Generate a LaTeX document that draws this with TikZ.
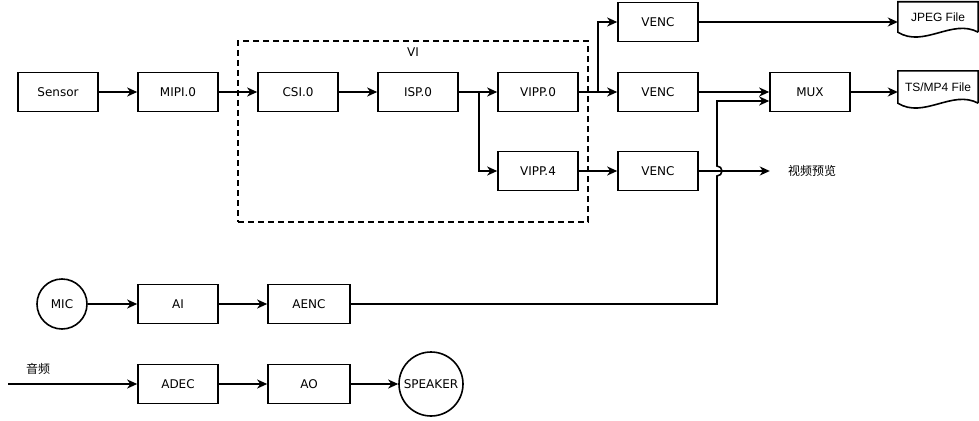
\documentclass[tikz,border=0pt]{standalone}
\usepackage{fontspec}
\setmainfont{DejaVu Sans}
\newfontfamily\arialfont{Liberation Sans}
\newfontfamily\cjk{Noto Sans CJK SC}
\usetikzlibrary{arrows.meta,shapes,positioning}

\begin{document}
\begin{tikzpicture}[x=1pt,y=-1pt]
    \tikzset{vertex/.style = {shape=rectangle,draw,line width=1.6pt,minimum width=80pt,minimum height=39pt,inner sep=0pt,font=\fontsize{12}{14}\selectfont}}
    \tikzset{disc/.style = {shape=circle,draw,line width=1.6pt,inner sep=0pt,font=\fontsize{12}{14}\selectfont}}
    \tikzset{docu/.style = {shape=rectangle,minimum width=80pt,inner sep=0pt,font=\arialfont\fontsize{12}{14}\selectfont}}
    \tikzset{txt/.style = {font=\cjk\fontsize{12}{14}\selectfont}}
    \tikzset{edge/.style = {-{Stealth[length=10pt,width=9pt,inset=3pt]},line width=1.6pt}}
    \useasboundingbox (0,0) rectangle (979,420);
    % group
    \node[draw,line width=1.6pt,dash pattern=on 6pt off 4pt,minimum width=350pt,minimum height=181pt] (20) at (413,131.5) {};
    \node[font=\fontsize{12}{14}\selectfont] (21) at (413,52) {VI};
    % vertices
    \node[vertex] (1) at  (58,92) {Sensor};
    \node[vertex] (2) at  (178,92) {MIPI.0};
    \node[vertex] (3) at  (298,92) {CSI.0};
    \node[vertex] (4) at  (418,92) {ISP.0};
    \node[vertex] (5) at  (538,92) {VIPP.0};
    \node[vertex] (6) at  (538,171) {VIPP.4};
    \node[vertex] (7) at  (658,22) {VENC};
    \node[vertex] (8) at  (658,92) {VENC};
    \node[vertex] (9) at  (658,171) {VENC};
    \node[vertex] (10) at  (810,92) {MUX};
    \node[docu,minimum height=30pt] (11) at  (938,17) {JPEG File};
    \node[docu,minimum height=32pt] (12) at  (938,87) {TS/MP4 File};
    \node[txt,minimum width=84pt] (13) at  (812,171) {视频预览};
    \node[disc,minimum size=50pt] (14) at  (62,304) {MIC};
    \node[vertex] (15) at  (178,304) {AI};
    \node[vertex,minimum width=82pt] (16) at  (309,304) {AENC};
    \node[vertex] (17) at  (178,384) {ADEC};
    \node[vertex,minimum width=82pt] (18) at  (309,384) {AO};
    \node[disc,minimum size=64pt] (19) at  (431,384) {SPEAKER};
    \node[txt] (22) at  (38,369) {音频};
    \coordinate (23) at (8,384);
    \coordinate (24) at (717,171);
    % file shapes
    \foreach \f in {11,12}
        \draw[line width=1.6pt] (\f.south east) -- (\f.north east) -- (\f.north west) -- (\f.south west)
            .. controls +(26,16) and +(-26,-14) .. (\f.south east);
    % edges
    \draw[edge] (1) -- (2);
    \draw[edge] (2) -- (3);
    \draw[edge] (3) -- (4);
    \draw[edge] (4) -- (5);
    \draw[edge] (4.east) -- ++(20,0) |- (6.west);
    \draw[edge] (5) -- (8);
    \draw[edge] (5.east) -- ++(19,0) |- (7.west);
    \draw[edge] (6) -- (9);
    \draw[edge] (7.east) -- (7.east -| 11.west);
    \draw[edge] (8) -- (10);
    \draw[edge] (10.east) -- (10.east -| 12.west);
    \draw[edge] (9) -- (13);
    \draw[edge] (14) -- (15);
    \draw[edge] (15) -- (16);
    \draw[edge] (16.east) -- (16.east -| 24) -- ([yshift=-5pt]24)
        arc[start angle=-90,end angle=90,radius=5pt] |- ([yshift=-9pt]10.west);
    \draw[edge] (23) -- (17);
    \draw[edge] (17) -- (18);
    \draw[edge] (18) -- (19);
\end{tikzpicture}
\end{document}
